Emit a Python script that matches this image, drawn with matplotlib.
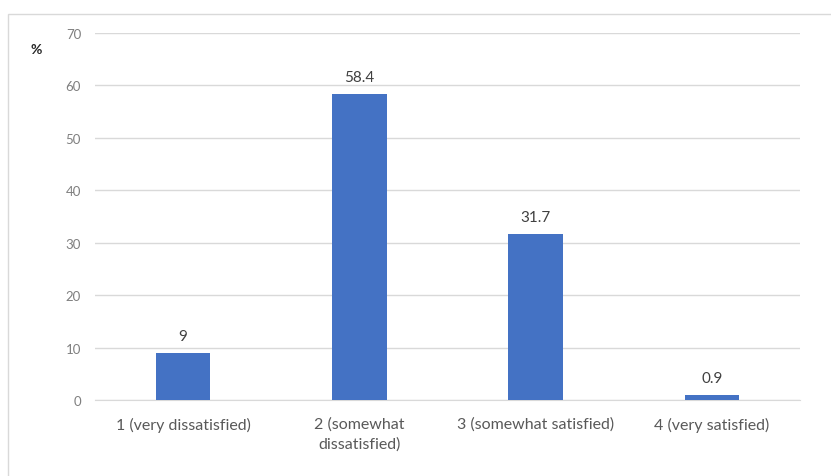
import matplotlib as mpl
import matplotlib.pyplot as plt
from matplotlib.patches import Rectangle

mpl.use('agg')

categories = ['1 (very dissatisfied)', '2 (somewhat\ndissatisfied)',
              '3 (somewhat satisfied)', '4 (very satisfied)']
values = [9, 58.4, 31.7, 0.9]
value_labels = ['9', '58.4', '31.7', '0.9']
yticks = [0, 10, 20, 30, 40, 50, 60, 70]

plt.rcParams['font.family'] = ['Lato', 'DejaVu Sans']

fig = plt.figure(figsize=(8.31, 4.77), dpi=100)
# light frame around the chart area
fig.patches.append(Rectangle((8 / 831, -0.01), 1.0, 1 - 15 / 477 + 0.01,
                             transform=fig.transFigure, fill=False,
                             edgecolor='#D9D9D9', linewidth=1))

ax = fig.add_axes([95 / 831, 1 - 401 / 477, 705 / 831, 367 / 477])
x = range(len(categories))
ax.bar(x, values, width=0.31, color='#4472C4', zorder=3)

for xi, v, lab in zip(x, values, value_labels):
    ax.text(xi, v + 1.9, lab, ha='center', va='bottom', fontsize=11, color='#404040')

ax.set_xlim(-0.5, 3.5)
ax.set_ylim(0, 70)
ax.set_yticks(yticks)
ax.set_xticks(list(x))
ax.set_xticklabels(categories, fontsize=11.5, color='#595959', linespacing=1.45)
ax.tick_params(axis='y', labelsize=9.5, colors='#7F7F7F', length=0, pad=10)
ax.tick_params(axis='x', length=0, pad=12)
ax.grid(axis='y', color='#D9D9D9', linewidth=1, zorder=0)
for s in ['top', 'right', 'left']:
    ax.spines[s].set_visible(False)
ax.spines['bottom'].set_color('#D9D9D9')

fig.text(36 / 831, 1 - 50 / 477, '%', fontsize=10, color='#262626',
         fontweight='bold', ha='center', va='center')

fig.savefig('out.png', dpi=100)
